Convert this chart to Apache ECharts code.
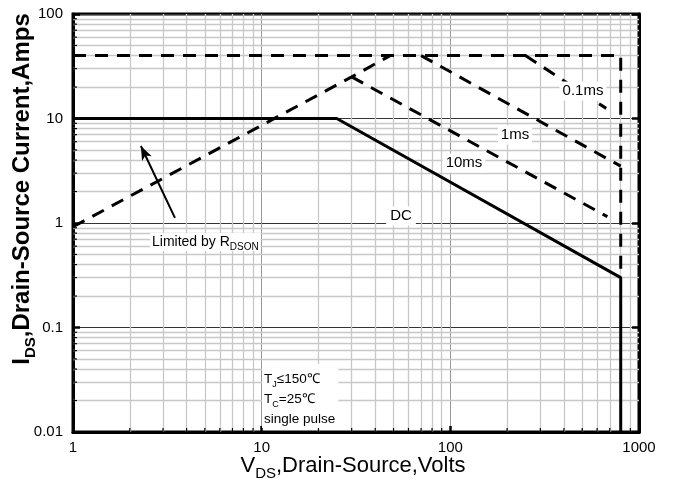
<!DOCTYPE html>
<html><head><meta charset="utf-8">
<script src="https://cdn.jsdelivr.net/npm/echarts@6/dist/echarts.min.js"></script>
<style>html,body{margin:0;padding:0;background:#fff}#c{width:674px;height:486px}</style>
</head><body><div id="c"></div>
<script>
// axis ticks
const xTicks = [1, 10, 100, 1000];
const yTicks = [0.01, 0.1, 1, 10, 100];
const minorX = [2,3,4,5,6,7,8,9,20,30,40,50,60,70,80,90,200,300,400,500,600,700,800,900];
const minorY = [0.02,0.03,0.04,0.05,0.06,0.07,0.08,0.09,0.2,0.3,0.4,0.5,0.6,0.7,0.8,0.9,2,3,4,5,6,7,8,9,20,30,40,50,60,70,80,90];
// curves [V, A]
const rdsonLine = [[1, 0.92], [30, 25], [48, 40]];
const idmLine = [[1, 40], [800, 40], [800, 0.3]];
const pulse10ms = [[30, 25], [680, 1.15]];
const pulse1ms = [[70, 40], [800, 3.5]];
const pulse01ms = [[250, 40], [670, 12.5]];
const dcLine = [[1, 10], [25, 10], [800, 0.3], [800, 0.01]];
const arrowLine = [[3.47, 1.12], [2.29, 5.46]];

const FONT = "'Liberation Sans', Arial, sans-serif";
const chart = echarts.init(document.getElementById('c'), null, {renderer: 'canvas'});
const dash = {color: '#000', width: 3, type: [13, 9], cap: 'butt'};
function dashed(name, data) {
  return {name, type: 'line', data, symbol: 'none', lineStyle: dash, z: 5, animation: false};
}
const fmt = v => String(+(+v).toPrecision(3));
const option = {
  animation: false,
  backgroundColor: '#fff',
  grid: {left: 73, right: 35, top: 14, bottom: 54, show: true, borderColor: '#000', borderWidth: 3, backgroundColor: 'transparent', containLabel: false, outerBoundsMode: 'none'},
  xAxis: {
    type: 'log', logBase: 10, min: xTicks[0], max: xTicks[xTicks.length - 1],
    axisLine: {show: true, lineStyle: {color: '#000', width: 3}},
    axisTick: {show: true, inside: true, length: 6, lineStyle: {color: '#000', width: 2.5}},
    axisLabel: {color: '#000', fontFamily: FONT, fontSize: 15, margin: 8, showMaxLabel: true, showMinLabel: true, formatter: fmt},
    splitLine: {show: true, lineStyle: {color: '#999', width: 1}},
    minorTick: {show: false}, minorSplitLine: {show: false}
  },
  yAxis: [{
    type: 'log', logBase: 10, min: yTicks[0], max: yTicks[yTicks.length - 1],
    axisLine: {show: true, lineStyle: {color: '#000', width: 3}},
    axisTick: {show: true, inside: true, length: 7, lineStyle: {color: '#000', width: 2.5}},
    axisLabel: {color: '#000', fontFamily: FONT, fontSize: 15, margin: 10, formatter: fmt},
    splitLine: {show: true, lineStyle: {color: '#333', width: 1}}
  }, {
    type: 'log', logBase: 10, min: yTicks[0], max: yTicks[yTicks.length - 1], position: 'right',
    axisLine: {show: true, lineStyle: {color: '#000', width: 3}},
    axisTick: {show: true, inside: true, length: 7, lineStyle: {color: '#000', width: 2.5}},
    axisLabel: {show: false}, splitLine: {show: false}
  }],
  series: [
    {name: 'minorGrid', type: 'line', data: [], symbol: 'none', z: 1, silent: true,
      markLine: {silent: true, symbol: ['none', 'none'], animation: false, label: {show: false},
        lineStyle: {color: '#c8c8c8', width: 1.3, type: 'solid'},
        data: minorX.map(v => ({xAxis: v})).concat(minorY.map(v => ({yAxis: v})))}},
    {name: 'minorTicksX', type: 'custom', z: 6, silent: true, data: minorX.map(v => [v, yTicks[0]]),
      renderItem: (p, api) => { const c = api.coord([api.value(0), yTicks[0]]);
        return {type: 'line', shape: {x1: c[0], y1: c[1], x2: c[0], y2: c[1] - 4}, style: {stroke: '#000', lineWidth: 1.2}}; }},
    {name: 'minorTicksY', type: 'custom', z: 6, silent: true, data: minorY.map(v => [xTicks[0], v]),
      renderItem: (p, api) => { const c = api.coord([xTicks[0], api.value(1)]);
        return {type: 'line', shape: {x1: c[0], y1: c[1], x2: c[0] + 4, y2: c[1]}, style: {stroke: '#000', lineWidth: 1.2}}; }},
    dashed('RDSON', rdsonLine),
    dashed('IDM', idmLine),
    dashed('10ms', pulse10ms),
    dashed('1ms', pulse1ms),
    dashed('0.1ms', pulse01ms),
    {name: 'DC', type: 'line', data: dcLine, symbol: 'none', z: 5, lineStyle: {color: '#000', width: 3}},
    {name: 'arrow', type: 'line', data: [], symbol: 'none', z: 5,
      markLine: {silent: true, symbol: ['none', 'arrow'], symbolSize: [8, 14], animation: false, label: {show: false},
        lineStyle: {color: '#000', width: 2, type: 'solid'},
        data: [[{coord: arrowLine[0]}, {coord: arrowLine[1]}]]}}
  ],
  graphic: [
    {type: 'text', z: 100, x: 583, y: 91, style: {text: '0.1ms', font: '15px ' + FONT, fill: '#000', align: 'center', verticalAlign: 'middle', backgroundColor: '#fff', padding: [2, 3]}},
    {type: 'text', z: 100, x: 515, y: 135, style: {text: '1ms', font: '15px ' + FONT, fill: '#000', align: 'center', verticalAlign: 'middle', backgroundColor: '#fff', padding: [2, 3]}},
    {type: 'text', z: 100, x: 464, y: 163, style: {text: '10ms', font: '15px ' + FONT, fill: '#000', align: 'center', verticalAlign: 'middle', backgroundColor: '#fff', padding: [2, 3]}},
    {type: 'text', z: 100, x: 401, y: 216, style: {text: 'DC', font: '15px ' + FONT, fill: '#000', align: 'center', verticalAlign: 'middle', backgroundColor: '#fff', padding: [2, 4]}},
    {type: 'text', z: 100, x: 150, y: 242, style: {text: '{a|Limited by R}{s|DSON}', align: 'left', verticalAlign: 'middle', backgroundColor: '#fff', padding: [2, 2],
      rich: {a: {font: '14px ' + FONT, fill: '#000', verticalAlign: 'bottom'}, s: {font: '10px ' + FONT, fill: '#000', verticalAlign: 'bottom', padding: [0, 0, -3, 0]}}}},
    {type: 'text', z: 100, x: 262, y: 364, style: {text: '{a|T}{s|J}{a|≤150℃}\n{a|T}{s|C}{a|=25℃}\n{a|single pulse}', align: 'left', verticalAlign: 'top', backgroundColor: '#fff', padding: [2, 3, 2, 2],
      rich: {a: {font: '13.5px ' + FONT, fill: '#000', lineHeight: 20, verticalAlign: 'bottom'}, s: {font: '9px ' + FONT, fill: '#000', lineHeight: 20, verticalAlign: 'bottom', padding: [0, 0, -3, 0]}}}},
    {type: 'text', z: 100, x: 353, y: 466, style: {text: '{a|V}{s|DS}{a|,Drain-Source,Volts}', align: 'center', verticalAlign: 'middle',
      rich: {a: {font: '22px ' + FONT, fill: '#000', verticalAlign: 'bottom'}, s: {font: '15px ' + FONT, fill: '#000', verticalAlign: 'bottom', padding: [0, 0, -4, 0]}}}},
    {type: 'text', z: 100, x: 22, y: 189, rotation: Math.PI / 2, style: {text: '{a|I}{s|DS}{a|,Drain-Source Current,Amps}', align: 'center', verticalAlign: 'middle',
      rich: {a: {font: 'bold 24px ' + FONT, fill: '#000', verticalAlign: 'bottom'}, s: {font: 'bold 15px ' + FONT, fill: '#000', verticalAlign: 'bottom', padding: [0, 0, -4, 0]}}}}
  ]
};
chart.setOption(option);
</script>
</body></html>
